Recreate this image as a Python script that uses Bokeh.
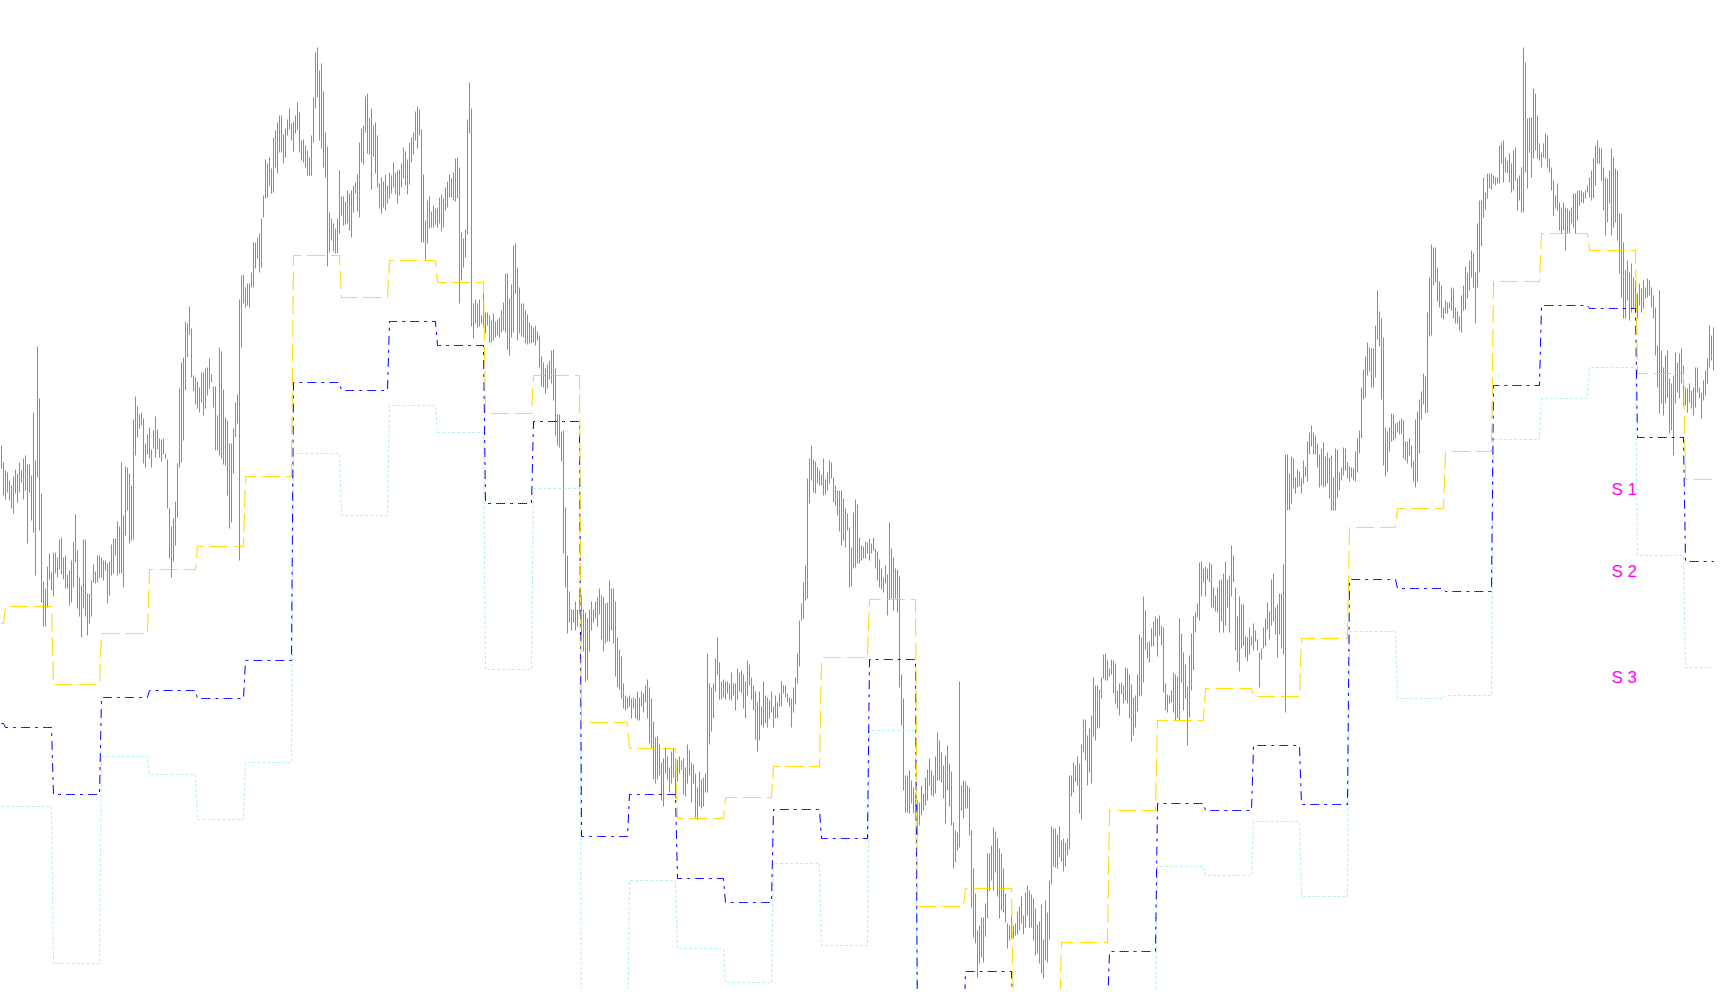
import numpy as np
from bokeh.plotting import figure
from bokeh.models import Range1d, ColumnDataSource
from bokeh.embed import file_html
from bokeh.resources import INLINE
from bokeh.core.properties import value

# Hourly bars (price in points): high / low, grouped by trading day (24 bars per day)
high = [
    1555, 1538,
    1530, 1528, 1520, 1515, 1524, 1531, 1527, 1538, 1530, 1542, 1545, 1536, 1536, 1525, 1588, 1540, 1654, 1602, 1507, 1419, 1412, 1434, 1447, 1428,
    1448, 1448, 1443, 1461, 1463, 1443, 1445, 1426, 1430, 1440, 1458, 1486, 1450, 1423, 1415, 1461, 1461, 1407, 1407, 1420, 1436, 1429, 1445, 1445,
    1443, 1440, 1440, 1437, 1439, 1456, 1462, 1462, 1479, 1474, 1538, 1485, 1534, 1533, 1527, 1515, 1581, 1604, 1594, 1586, 1588, 1582, 1557, 1566,
    1573, 1551, 1570, 1584, 1571, 1562, 1561, 1562, 1547, 1541, 1492, 1474, 1482, 1499, 1537, 1612, 1638, 1643, 1679, 1677, 1694, 1672, 1625, 1623,
    1619, 1613, 1628, 1628, 1632, 1633, 1642, 1626, 1614, 1614, 1585, 1653, 1649, 1611, 1583, 1580, 1557, 1557, 1572, 1598, 1606, 1701, 1725, 1726,
    1713, 1717, 1717, 1728, 1758, 1758, 1763, 1767, 1782, 1805, 1841, 1837, 1843, 1832, 1863, 1870, 1878, 1885, 1885, 1866, 1872, 1881, 1892, 1877,
    1879, 1885, 1898, 1888, 1860, 1861, 1855, 1850, 1843, 1865, 1903, 1948, 1953, 1930, 1937, 1909, 1868, 1854, 1788, 1782, 1777, 1772, 1782, 1830,
    1804, 1804, 1799, 1810, 1807, 1810, 1815, 1818, 1826, 1858, 1872, 1875, 1904, 1907, 1882, 1892, 1875, 1878, 1865, 1817, 1823, 1819, 1826, 1815,
    1828, 1825, 1838, 1828, 1830, 1831, 1837, 1853, 1849, 1841, 1858, 1863, 1868, 1889, 1894, 1891, 1871, 1826, 1780, 1800, 1804, 1789, 1795, 1792,
    1793, 1803, 1806, 1802, 1813, 1819, 1826, 1822, 1828, 1842, 1843, 1833, 1768, 1762, 1771, 1881, 1918, 1892, 1697, 1701, 1697, 1701, 1685, 1707,
    1688, 1688, 1685, 1680, 1687, 1679, 1681, 1683, 1690, 1698, 1727, 1727, 1702, 1716, 1755, 1757, 1733, 1713, 1697, 1697, 1690, 1686, 1678, 1675,
    1673, 1675, 1669, 1665, 1644, 1638, 1632, 1636, 1640, 1650, 1651, 1632, 1586, 1586, 1569, 1570, 1493, 1445, 1409, 1391, 1391, 1399, 1391, 1412,
    1405, 1391, 1388, 1382, 1391, 1399, 1391, 1399, 1403, 1412, 1405, 1403, 1397, 1398, 1420, 1412, 1412, 1399, 1363, 1351, 1344, 1317, 1305, 1303,
    1305, 1302, 1303, 1302, 1309, 1303, 1309, 1307, 1315, 1321, 1313, 1302, 1279, 1263, 1264, 1256, 1238, 1242, 1253, 1244, 1233, 1249, 1252, 1242,
    1241, 1244, 1240, 1242, 1233, 1256, 1250, 1238, 1236, 1227, 1213, 1229, 1221, 1223, 1227, 1347, 1317, 1313, 1317, 1342, 1363, 1338, 1319, 1321,
    1319, 1319, 1317, 1328, 1317, 1317, 1332, 1328, 1330, 1326, 1319, 1340, 1336, 1323, 1315, 1309, 1298, 1309, 1294, 1319, 1305, 1303, 1300, 1309,
    1294, 1305, 1298, 1307, 1319, 1315, 1315, 1307, 1303, 1302, 1313, 1323, 1347, 1380, 1397, 1418, 1435, 1522, 1542, 1555, 1541, 1539, 1533, 1530,
    1526, 1542, 1521, 1528, 1540, 1538, 1523, 1515, 1510, 1510, 1510, 1502, 1492, 1487, 1473, 1453, 1488, 1501, 1496, 1463, 1455, 1454, 1459, 1458,
    1462, 1457, 1463, 1452, 1449, 1441, 1432, 1423, 1435, 1426, 1478, 1452, 1443, 1432, 1431, 1424, 1326, 1302, 1225, 1225, 1230, 1220, 1213, 1208,
    1200, 1198, 1215, 1207, 1223, 1231, 1242, 1230, 1225, 1244, 1268, 1260, 1248, 1235, 1245, 1255, 1237, 1229, 1178, 1170, 1168, 1319, 1215, 1220,
    1219, 1215, 1213, 1170, 1132, 1107, 1070, 1075, 1083, 1083, 1097, 1147, 1147, 1155, 1173, 1169, 1162, 1152, 1147, 1132, 1107, 1077, 1075, 1085,
    1075, 1077, 1089, 1094, 1104, 1085, 1108, 1115, 1110, 1106, 1102, 1092, 1076, 1079, 1096, 1061, 1100, 1088, 1120, 1174, 1172, 1172, 1166, 1174,
    1160, 1162, 1158, 1162, 1225, 1225, 1238, 1235, 1244, 1237, 1256, 1281, 1281, 1265, 1272, 1285, 1323, 1315, 1315, 1311, 1323, 1346, 1347, 1340,
    1332, 1341, 1340, 1337, 1310, 1317, 1318, 1315, 1333, 1332, 1326, 1316, 1303, 1305, 1326, 1366, 1363, 1404, 1390, 1358, 1359, 1372, 1379, 1384,
    1382, 1385, 1375, 1373, 1317, 1306, 1305, 1310, 1328, 1326, 1324, 1382, 1367, 1348, 1336, 1314, 1345, 1367, 1384, 1388, 1397, 1438, 1439, 1432,
    1434, 1432, 1438, 1436, 1413, 1405, 1413, 1420, 1421, 1427, 1439, 1421, 1425, 1455, 1445, 1413, 1384, 1404, 1396, 1396, 1364, 1363, 1373, 1364,
    1377, 1370, 1361, 1348, 1352, 1373, 1382, 1398, 1389, 1421, 1427, 1393, 1396, 1407, 1407, 1436, 1546, 1546, 1527, 1544, 1542, 1523, 1531, 1529,
    1522, 1540, 1534, 1559, 1568, 1575, 1568, 1565, 1557, 1546, 1552, 1558, 1544, 1548, 1543, 1545, 1523, 1552, 1551, 1528, 1533, 1553, 1552, 1538,
    1534, 1533, 1532, 1549, 1562, 1570, 1613, 1631, 1644, 1658, 1653, 1652, 1652, 1675, 1710, 1689, 1682, 1663, 1573, 1569, 1573, 1587, 1586, 1577,
    1578, 1580, 1582, 1580, 1559, 1559, 1562, 1555, 1539, 1581, 1589, 1601, 1609, 1627, 1624, 1688, 1723, 1756, 1753, 1753, 1733, 1719, 1715, 1693,
    1700, 1698, 1698, 1713, 1712, 1693, 1689, 1684, 1705, 1715, 1734, 1728, 1740, 1750, 1747, 1728, 1777, 1800, 1800, 1823, 1808, 1827, 1827, 1827,
    1825, 1823, 1823, 1855, 1858, 1860, 1843, 1840, 1847, 1837, 1850, 1853, 1822, 1825, 1833, 1953, 1938, 1882, 1883, 1883, 1912, 1907, 1885, 1857,
    1848, 1857, 1867, 1865, 1842, 1833, 1820, 1805, 1817, 1798, 1793, 1798, 1793, 1792, 1790, 1793, 1807, 1807, 1810, 1810, 1810, 1808, 1810, 1815,
    1823, 1830, 1842, 1855, 1860, 1853, 1852, 1833, 1823, 1822, 1830, 1852, 1843, 1832, 1830, 1787, 1787, 1758, 1730, 1740, 1728, 1737, 1723, 1720,
    1707, 1717, 1712, 1720, 1713, 1722, 1720, 1713, 1705, 1693, 1655, 1710, 1650, 1633, 1645, 1650, 1622, 1617, 1625, 1648, 1638, 1647, 1652, 1635,
    1613, 1612, 1617, 1610, 1613, 1633, 1633, 1613, 1608, 1620, 1630, 1642, 1675, 1665, 1673, 1695, 1662, 1687, 1662, 1660, 1652, 1688, 1672,
]

low = [
    1532, 1505,
    1501, 1508, 1500, 1492, 1487, 1507, 1498, 1508, 1518, 1501, 1510, 1457, 1508, 1480, 1468, 1425, 1523, 1470, 1398, 1374, 1374, 1393, 1421, 1410,
    1404, 1427, 1423, 1431, 1426, 1421, 1412, 1412, 1395, 1398, 1413, 1438, 1392, 1384, 1363, 1392, 1384, 1365, 1377, 1384, 1418, 1417, 1418, 1422,
    1423, 1420, 1430, 1397, 1405, 1425, 1427, 1445, 1425, 1427, 1427, 1413, 1465, 1490, 1457, 1460, 1461, 1545, 1563, 1572, 1575, 1537, 1533, 1546,
    1542, 1533, 1552, 1543, 1551, 1543, 1539, 1546, 1542, 1492, 1442, 1423, 1439, 1455, 1483, 1533, 1538, 1560, 1610, 1643, 1666, 1623, 1609, 1596,
    1592, 1588, 1598, 1585, 1592, 1605, 1612, 1618, 1593, 1550, 1550, 1545, 1542, 1536, 1535, 1505, 1472, 1478, 1527, 1563, 1577, 1440, 1653, 1697,
    1693, 1695, 1693, 1713, 1713, 1732, 1742, 1728, 1733, 1783, 1802, 1803, 1815, 1807, 1808, 1833, 1827, 1848, 1848, 1837, 1843, 1865, 1871, 1860,
    1849, 1867, 1871, 1848, 1840, 1838, 1833, 1825, 1825, 1825, 1858, 1892, 1903, 1860, 1852, 1833, 1823, 1734, 1748, 1760, 1749, 1747, 1747, 1767,
    1785, 1775, 1776, 1777, 1770, 1763, 1788, 1807, 1789, 1783, 1838, 1836, 1868, 1847, 1846, 1811, 1844, 1827, 1813, 1792, 1787, 1793, 1790, 1797,
    1802, 1807, 1813, 1806, 1797, 1805, 1813, 1822, 1815, 1806, 1816, 1838, 1846, 1860, 1852, 1865, 1758, 1758, 1741, 1757, 1772, 1773, 1773, 1776,
    1773, 1777, 1769, 1773, 1790, 1793, 1803, 1803, 1800, 1799, 1802, 1697, 1720, 1733, 1743, 1766, 1867, 1674, 1662, 1677, 1673, 1674, 1677, 1673,
    1667, 1675, 1658, 1658, 1660, 1663, 1665, 1663, 1668, 1670, 1668, 1651, 1645, 1663, 1668, 1707, 1660, 1667, 1664, 1663, 1657, 1656, 1657, 1657,
    1658, 1655, 1660, 1633, 1614, 1613, 1607, 1612, 1621, 1617, 1600, 1565, 1555, 1553, 1539, 1447, 1413, 1367, 1378, 1370, 1378, 1370, 1374, 1386,
    1359, 1349, 1319, 1321, 1349, 1370, 1378, 1382, 1374, 1386, 1361, 1349, 1357, 1359, 1359, 1370, 1357, 1324, 1313, 1311, 1302, 1292, 1290, 1292,
    1294, 1282, 1292, 1282, 1280, 1280, 1294, 1288, 1298, 1282, 1257, 1252, 1221, 1217, 1221, 1225, 1200, 1194, 1227, 1221, 1208, 1217, 1223, 1202,
    1219, 1227, 1231, 1206, 1204, 1217, 1225, 1198, 1217, 1183, 1181, 1194, 1192, 1194, 1208, 1208, 1256, 1269, 1282, 1309, 1326, 1301, 1301, 1303,
    1301, 1307, 1301, 1300, 1305, 1290, 1301, 1309, 1307, 1292, 1282, 1305, 1315, 1301, 1290, 1261, 1249, 1260, 1275, 1273, 1277, 1273, 1282, 1288,
    1273, 1282, 1282, 1294, 1294, 1307, 1303, 1298, 1294, 1273, 1288, 1296, 1317, 1334, 1380, 1382, 1400, 1402, 1497, 1520, 1508, 1507, 1517, 1515,
    1515, 1505, 1506, 1510, 1517, 1522, 1498, 1495, 1485, 1469, 1455, 1460, 1453, 1470, 1413, 1414, 1432, 1433, 1437, 1437, 1440, 1442, 1442, 1447,
    1440, 1447, 1450, 1432, 1420, 1413, 1411, 1408, 1417, 1385, 1401, 1402, 1390, 1402, 1388, 1313, 1275, 1210, 1188, 1188, 1187, 1197, 1187, 1180,
    1165, 1175, 1185, 1190, 1195, 1200, 1215, 1205, 1204, 1207, 1220, 1220, 1218, 1202, 1177, 1210, 1194, 1175, 1132, 1138, 1150, 1153, 1190, 1182,
    1192, 1192, 1165, 1093, 1063, 1057, 1023, 1037, 1043, 1038, 1064, 1082, 1110, 1120, 1110, 1128, 1104, 1082, 1090, 1088, 1078, 1052, 1060, 1062,
    1062, 1065, 1066, 1070, 1077, 1066, 1073, 1085, 1073, 1073, 1060, 1045, 1047, 1037, 1027, 1022, 1040, 1038, 1061, 1116, 1134, 1133, 1132, 1143,
    1139, 1129, 1134, 1145, 1151, 1204, 1208, 1219, 1215, 1187, 1181, 1248, 1240, 1215, 1228, 1217, 1264, 1260, 1272, 1273, 1302, 1322, 1320, 1320,
    1324, 1326, 1307, 1297, 1292, 1285, 1306, 1297, 1300, 1297, 1282, 1259, 1265, 1273, 1289, 1304, 1305, 1318, 1351, 1342, 1338, 1354, 1354, 1364,
    1344, 1365, 1355, 1308, 1290, 1288, 1297, 1298, 1288, 1280, 1282, 1280, 1318, 1290, 1302, 1255, 1283, 1310, 1330, 1368, 1383, 1380, 1404, 1418,
    1404, 1421, 1418, 1393, 1393, 1389, 1388, 1368, 1379, 1368, 1375, 1393, 1368, 1404, 1418, 1350, 1338, 1329, 1352, 1355, 1343, 1339, 1346, 1355,
    1350, 1359, 1350, 1313, 1341, 1352, 1354, 1371, 1361, 1375, 1379, 1366, 1343, 1366, 1352, 1346, 1288, 1490, 1490, 1497, 1512, 1507, 1513, 1514,
    1507, 1517, 1524, 1519, 1546, 1554, 1546, 1546, 1533, 1513, 1515, 1513, 1514, 1517, 1502, 1490, 1490, 1490, 1503, 1510, 1520, 1525, 1530, 1522,
    1519, 1523, 1520, 1519, 1528, 1547, 1562, 1601, 1603, 1625, 1629, 1613, 1613, 1623, 1661, 1654, 1601, 1535, 1524, 1529, 1549, 1559, 1560, 1562,
    1568, 1566, 1567, 1542, 1540, 1537, 1545, 1533, 1519, 1513, 1519, 1547, 1581, 1596, 1587, 1588, 1664, 1665, 1715, 1718, 1699, 1693, 1683, 1681,
    1687, 1687, 1692, 1690, 1682, 1677, 1677, 1670, 1668, 1690, 1691, 1702, 1710, 1723, 1713, 1677, 1713, 1728, 1754, 1783, 1791, 1802, 1812, 1811,
    1817, 1815, 1817, 1817, 1837, 1818, 1828, 1827, 1818, 1808, 1810, 1820, 1790, 1800, 1788, 1788, 1828, 1812, 1848, 1823, 1842, 1850, 1842, 1840,
    1833, 1843, 1842, 1833, 1828, 1810, 1785, 1792, 1790, 1770, 1767, 1770, 1750, 1767, 1767, 1777, 1773, 1767, 1780, 1795, 1798, 1797, 1802, 1808,
    1803, 1800, 1802, 1815, 1837, 1837, 1820, 1790, 1765, 1778, 1797, 1765, 1773, 1778, 1760, 1727, 1703, 1682, 1682, 1700, 1680, 1688, 1692, 1688,
    1682, 1695, 1688, 1692, 1702, 1703, 1705, 1693, 1682, 1645, 1613, 1587, 1597, 1585, 1597, 1603, 1567, 1570, 1545, 1597, 1608, 1602, 1617, 1595,
    1595, 1588, 1598, 1592, 1585, 1593, 1608, 1602, 1582, 1600, 1605, 1617, 1633, 1640, 1630, 1630, 1568, 1580, 1557, 1633, 1633, 1650, 1650,
]

# Daily support levels (one value per trading day, first entry = partial day)
s1_daily = [1377, 1394, 1316, 1367, 1431, 1454, 1524, 1745, 1703, 1740, 1718, 1587, 1625, 1278, 1252,
            1182, 1203, 1234, 1343, 1401, 1094, 1112, 980, 1058, 1190, 1280, 1312, 1304, 1362, 1473,
            1492, 1549, 1719, 1767, 1750, 1627, 1521]
s2_daily = [1277, 1273, 1206, 1303, 1310, 1302, 1340, 1618, 1610, 1679, 1655, 1497, 1579, 1164, 1206,
            1122, 1098, 1191, 1162, 1341, 960, 1029, 970, 990, 1049, 1197, 1190, 1255, 1196, 1421,
            1412, 1409, 1615, 1695, 1692, 1563, 1439]
s3_daily = [1194, 1194, 1037, 1244, 1226, 1181, 1238, 1547, 1485, 1595, 1568, 1331, 1512, 940, 1120,
            1052, 1018, 1137, 1055, 1270, 870, 900, 860, 930, 980, 1134, 1125, 1179, 1104, 1369,
            1302, 1305, 1561, 1602, 1633, 1445, 1333]
level_labels = ["S 1", "S 2", "S 3"]

bars_per_day = 24
first_day_bars = 2

n = len(high)
bar = np.arange(n)
n_full = len(s1_daily) - 2
day_lengths = [first_day_bars] + [bars_per_day] * n_full + [n - first_day_bars - bars_per_day * n_full]

s1 = np.repeat(s1_daily, day_lengths)
s2 = np.repeat(s2_daily, day_lengths)
s3 = np.repeat(s3_daily, day_lengths)

src = ColumnDataSource(dict(bar=bar, high=high, low=low, s1=s1, s2=s2, s3=s3))

p = figure(width=1714, height=989, output_backend="svg", toolbar_location=None,
           x_range=Range1d(-0.5, 856.5), y_range=Range1d(1011, 2000),
           x_axis_location=None, y_axis_location=None, min_border=0,
           background_fill_color="white", border_fill_color="white",
           outline_line_color=None)
p.xgrid.grid_line_color = None
p.ygrid.grid_line_color = None

p.segment(x0="bar", y0="low", x1="bar", y1="high", source=src,
          line_color="#00F000", line_width=1)

p.line("bar", "s3", source=src, line_color="#AFEEEE", line_width=1, line_dash="3 2")
p.line("bar", "s2", source=src, line_color="#0000FF", line_width=1, line_dash="9 5 3 5")
p.line("bar", "s1", source=src, line_color="#FFD700", line_width=1, line_dash="18 6")

label_bar = n - 60
p.text(x=[label_bar] * 3, y=[s1_daily[-1], s2_daily[-1], s3_daily[-1]], text=level_labels,
       text_color="#FF00FF", text_font=value("Liberation Sans"), text_font_size="17px",
       text_baseline="top", text_align="left")

open("out.html", "w").write(file_html(p, INLINE))
